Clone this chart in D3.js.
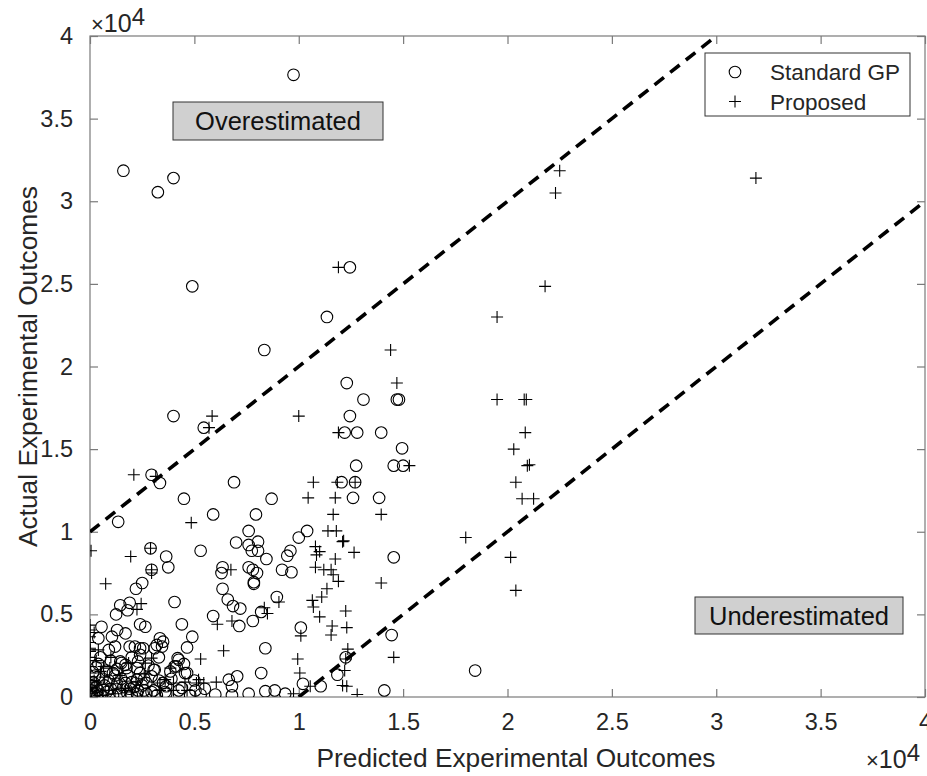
<!DOCTYPE html>
<html>
<head>
<meta charset="utf-8">
<script src="https://cdn.jsdelivr.net/npm/d3@7"></script>
<style>
  html, body { margin: 0; padding: 0; background: #fff; }
  svg { display: block; }
  text { font-family: "Liberation Sans", Arial, Helvetica, sans-serif; }
</style>
</head>
<body>
<svg id="chart" width="927" height="776"></svg>
<script>
// ---------------- DATA ----------------
const standardGP = [
 [9750,37650],[1600,31850],[3250,30550],[4000,31400],[4900,24850],[8350,21000],
 [12450,26000],[11350,23000],[12300,19000],[13100,18000],[14700,18000],[14800,18000],
 [12450,17000],[12200,16000],[12800,16000],[13950,16000],[14950,15050],[12750,14000],
 [14550,14000],[15000,14000],[4000,17000],[5450,16300],[2950,13450],[3350,12950],
 [6900,13000],[4500,12000],[8700,12000],[5900,11050],[7950,11050],[1350,10600],
 [12050,13000],[12700,13000],[12600,12050],[13850,12050],[10400,10050],[10000,9650],
 [7600,10050],[7000,9350],[7600,9200],[8050,9400],[7750,8850],[8050,8850],[8450,8350],
 [9600,8850],[9450,8550],[5300,8850],[14550,8450],
 [2900,9000],[3650,8500],[3750,7850],[2950,7700],[2500,6900],[2200,6550],[4050,5750],
 [1900,5700],[1450,5550],[1250,5000],[1800,5250],
 [6350,7850],[6300,7500],[6350,6550],[7600,7850],[7800,7700],[8000,7500],[7850,6950],[7850,6850],
 [9200,7700],[9650,7550],[8950,6050],
 [6600,5900],[6850,5500],[7200,5350],[7150,4300],[5900,4900],[8200,5150],[7800,4600],
 [4400,4400],[4900,3650],[4650,3000],[8400,2950],[8200,1450],[6650,1050],[7050,1250],[6800,650],
 [6000,150],[6800,100],[7600,200],[8400,350],[8850,400],[9350,200],
 [14450,3750],[14100,400],[18450,1600],[12250,2400],[11850,1350],[10200,800],[11050,650],[10100,4200],
 [4200,2350],[4650,1450],[4150,1850],[3850,1550],[3500,850],[4250,400],[3650,200],[2700,200],[2250,200],
 [3450,3050],[3200,3150],[1900,3050],[2400,2950],[1450,2150],[1700,1950],[2250,1750],[2400,1450],
 [3050,1650],[2250,1050],[2700,850],[3050,400],[1700,850],[1100,1450],
 [550,4250],[1300,4050],[1050,3650],[400,3550],[1700,3850],[2400,4400],[2650,4250],[1200,3050],
 [900,2850],[2150,3050],[2550,2950],[2400,2550],[3100,2950],[3500,3350],[3350,3550],
 [1500,2050],[1750,1750],[2300,2150],[2950,1250],[3100,1650],[4250,2250],[4050,1850],[4550,1450],
 [3650,650],[4400,550],[5050,400],[3600,300],[2950,300],[2300,400],
 [200,200],[500,150],[800,300],[1100,100],[1400,250],[300,600],[700,700],[1000,500],[1300,800],
 [600,1100],[150,900],[400,400],[900,1000],[1600,600],[1800,200],[250,1300],[1200,1300],[2000,900],
 [2500,700],[100,100],[50,400],[350,50],[650,450],[1500,1100],[1900,500],
 [300,1800],[800,1600],[1300,1700],[1800,1300],[2100,600],[2600,1100],[3300,1000],[3900,1100],
 [500,2400],[1000,2200],[2000,2400],[2800,1900],[3300,2400],[4500,2000],[5000,1000],[5500,500],
 [4800,100],[2000,100],[2600,400],[3200,100],[100,700],[150,1500],[400,2000],[5300,150]
];

const proposed = [
 [11900,26000],[14400,21000],[14700,19000],[19500,23000],[21800,24850],[22500,31850],[22300,30500],
 [31900,31400],[19500,18000],[20800,18000],[20900,18000],[20850,16000],[20300,15000],[20950,14000],[21050,14050],
 [20400,13000],[20700,12000],[21250,12000],[20150,8450],[20400,6450],[18000,9650],
 [10000,17000],[11900,16000],[15300,14000],[10700,13000],[11850,13000],[12700,13000],[10450,12050],
 [11750,12050],[11650,11050],[13950,11050],[11400,10050],[11800,10050],[12100,9400],[12150,9450],
 [12650,8750],[10800,9100],[11000,8800],[10850,8600],[11750,8350],[10800,7850],[11200,7700],
 [11550,7700],[11650,7400],[11900,7000],[11350,6550],[11100,6050],[10650,5850],[10700,5450],
 [11000,4850],[13950,6900],[12250,5200],[11600,4300],[12300,4200],[11550,3750],[10100,3700],
 [12350,2900],[12250,2300],[9950,2300],[14550,2400],[10050,1450],[12200,1600],[10550,650],[12300,650],
 [12100,700],[12800,150],[9750,200],
 [5850,17000],[5700,16300],[2100,13450],[3150,13350],[4850,10550],[50,8850],[1950,8500],[2900,9000],
 [2950,7700],[2950,7500],[750,6850],[2450,5650],[2250,5300],[6750,7700],[9050,5750],[8350,5400],[8500,5050],
 [6100,4400],[6800,4600],[6400,2800],[5300,2300],[6050,900],
 [2950,2350],[2650,2050],[1850,2050],[3850,1750],[3600,1050],[4550,900],[5200,1050],[5450,850],[5100,850],
 [0,1850],[500,1550],[0,2850],[400,2850],[650,1850],[950,1750],[3350,850],[4000,850],[4000,400],[3350,400],[4650,400],
 [0,4350],[0,4050],[0,3650],[0,2950],[0,2750],[0,1450],[0,1000],[0,600],[0,200],[300,300],[600,100],[900,400],
 [1200,200],[200,1000],[1500,500],[2000,300],
 [100,500],[300,900],[700,1200],[1100,800],[1400,1300],[1700,400],[2200,900],[2600,1400],
 [0,2400],[0,3300],[200,3900],[300,2200],[1000,2400]
];

const tickValues = [0, 5000, 10000, 15000, 20000, 25000, 30000, 35000, 40000];
const tickLabels = ["0", "0.5", "1", "1.5", "2", "2.5", "3", "3.5", "4"];
const upperLine = [[0, 10000], [30000, 40000]];
const lowerLine = [[10000, 0], [40000, 30000]];
const seriesNames = ["Standard GP", "Proposed"];
const annotations = ["Overestimated", "Underestimated"];
const xLabel = "Predicted Experimental Outcomes";
const yLabel = "Actual Experimental Outcomes";

// ---------------- LAYOUT ----------------
const L = 90, R = 925, T = 36, B = 697;
const svg = d3.select("#chart");
svg.append("rect").attr("width", 927).attr("height", 776).attr("fill", "#fff");

const x = d3.scaleLinear().domain([0, 40000]).range([L, R]);
const y = d3.scaleLinear().domain([0, 40000]).range([B, T]);

const axisColor = "#7a7a7a";
const textColor = "#262626";

svg.append("clipPath").attr("id", "clip").append("rect")
  .attr("x", L).attr("y", T).attr("width", R - L).attr("height", B - T);

const fmt = (d) => tickLabels[tickValues.indexOf(d)];
function styleAxis(g) {
  g.select(".domain").remove();
  g.selectAll(".tick line").attr("stroke", axisColor).attr("stroke-width", 1.2);
  g.selectAll(".tick text").attr("fill", textColor).attr("font-size", 23.5);
}
svg.append("g").attr("transform", `translate(0,${B})`)
  .call(d3.axisBottom(x).tickValues(tickValues).tickFormat(fmt).tickSizeInner(-8).tickSizeOuter(0).tickPadding(16))
  .call(styleAxis);
svg.append("g").attr("transform", `translate(0,${T})`)
  .call(d3.axisTop(x).tickValues(tickValues).tickFormat("").tickSizeInner(-8).tickSizeOuter(0))
  .call(styleAxis);
svg.append("g").attr("transform", `translate(${L},0)`)
  .call(d3.axisLeft(y).tickValues(tickValues).tickFormat(fmt).tickSizeInner(-8).tickSizeOuter(0).tickPadding(17))
  .call(styleAxis);
svg.append("g").attr("transform", `translate(${R},0)`)
  .call(d3.axisRight(y).tickValues(tickValues).tickFormat("").tickSizeInner(-8).tickSizeOuter(0))
  .call(styleAxis);

svg.append("rect").attr("x", L).attr("y", T).attr("width", R - L).attr("height", B - T)
  .attr("fill", "none").attr("stroke", axisColor).attr("stroke-width", 1.2);

// exponent labels
function expLabel(xp, yp) {
  const t = svg.append("text").attr("x", xp).attr("y", yp).attr("fill", textColor).attr("font-size", 25);
  t.append("tspan").attr("font-size", 22).text("\u00d7");
  t.append("tspan").text("10");
  t.append("tspan").attr("dy", -7).attr("font-size", 24).text("4");
}
expLabel(91, 32);
expLabel(866, 768);

// axis labels
svg.append("text").attr("x", 516).attr("y", 767).attr("text-anchor", "middle")
  .attr("fill", textColor).attr("font-size", 26.3).text(xLabel);
svg.append("text").attr("transform", `translate(37,${(T + B) / 2}) rotate(-90)`)
  .attr("text-anchor", "middle").attr("fill", textColor).attr("font-size", 26.3).text(yLabel);

const plot = svg.append("g").attr("clip-path", "url(#clip)");

const line = d3.line().x(d => x(d[0])).y(d => y(d[1]));
[upperLine, lowerLine].forEach(seg => {
  plot.append("path").attr("d", line(seg)).attr("fill", "none")
    .attr("stroke", "#000").attr("stroke-width", 3.6).attr("stroke-dasharray", "12,8");
});

const r = 5.8, p = 6;
plot.append("g").selectAll("circle").data(standardGP).join("circle")
  .attr("cx", d => x(d[0])).attr("cy", d => y(d[1])).attr("r", r)
  .attr("fill", "none").attr("stroke", "#000").attr("stroke-width", 1.1);
plot.append("g").selectAll("path").data(proposed).join("path")
  .attr("d", d => `M${x(d[0]) - p},${y(d[1])}H${x(d[0]) + p}M${x(d[0])},${y(d[1]) - p}V${y(d[1]) + p}`)
  .attr("stroke", "#000").attr("stroke-width", 1.1).attr("fill", "none");

function annot(x0, y0, w, h, label) {
  svg.append("rect").attr("x", x0).attr("y", y0).attr("width", w).attr("height", h)
    .attr("fill", "#d0d0d0").attr("stroke", "#333").attr("stroke-width", 1);
  svg.append("text").attr("x", x0 + w / 2).attr("y", y0 + h / 2 + 9).attr("text-anchor", "middle")
    .attr("fill", "#111").attr("font-size", 25.5).text(label);
}
annot(173, 102, 210, 38, annotations[0]);
annot(695, 597, 208, 37, annotations[1]);

const lg = svg.append("g");
lg.append("rect").attr("x", 705).attr("y", 53).attr("width", 205).attr("height", 63)
  .attr("fill", "#fff").attr("stroke", "#333").attr("stroke-width", 1);
lg.append("circle").attr("cx", 735).attr("cy", 72).attr("r", r)
  .attr("fill", "none").attr("stroke", "#000").attr("stroke-width", 1.1);
lg.append("path").attr("d", `M${735 - p},101.5H${735 + p}M735,${101.5 - p}V${101.5 + p}`)
  .attr("stroke", "#000").attr("stroke-width", 1.1);
lg.append("text").attr("x", 770).attr("y", 80).attr("fill", textColor).attr("font-size", 22.5).text(seriesNames[0]);
lg.append("text").attr("x", 770).attr("y", 110).attr("fill", textColor).attr("font-size", 22.5).text(seriesNames[1]);
</script>
</body>
</html>
